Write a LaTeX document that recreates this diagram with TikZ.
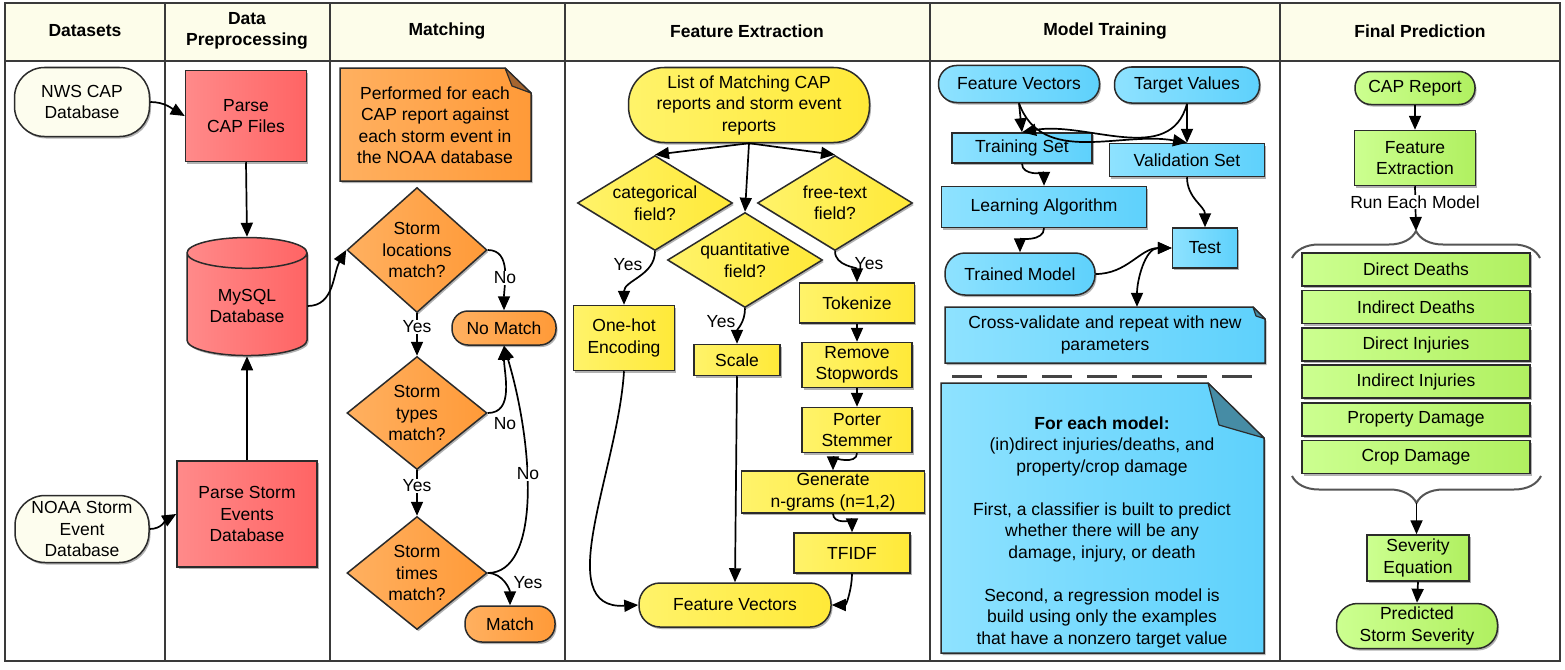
\documentclass[tikz,border=0pt]{standalone}
\usepackage{fontspec}
\setmainfont{Liberation Sans}
\usetikzlibrary{arrows.meta,shapes.geometric,shadows,decorations.pathreplacing,calc}
\newcommand\fs{\fontsize{17.5}{21.5}\selectfont}
\definecolor{linec}{HTML}{2B2B2B}
\definecolor{framec}{HTML}{3A3A3A}
\definecolor{headc}{HTML}{FDFDEA}
\definecolor{creamc}{HTML}{FDFDEE}
\definecolor{redL}{HTML}{FF8A8A}
\definecolor{redR}{HTML}{FF6464}
\definecolor{orL}{HTML}{FFB060}
\definecolor{orR}{HTML}{FF9A38}
\definecolor{yeL}{HTML}{FFF36A}
\definecolor{yeR}{HTML}{FFE938}
\definecolor{blL}{HTML}{8EE2FF}
\definecolor{blR}{HTML}{5ED1FC}
\definecolor{grL}{HTML}{CCFF90}
\definecolor{grR}{HTML}{B0F060}
\definecolor{flapor}{HTML}{A5652F}
\definecolor{flapbl}{HTML}{468CA5}
\definecolor{bracec}{HTML}{555555}
\definecolor{dashc}{HTML}{444444}
\tikzset{
  every node/.style={font=\fs, text=black},
  shad/.style={drop shadow={shadow xshift=1.5pt, shadow yshift=-2pt, opacity=0.3, fill=black}},
  nd/.style={draw=linec, line width=1.5pt, align=center, inner sep=1pt, shad},
  sz/.style 2 args={minimum width=#1pt, minimum height=#2pt},
  pill/.style={rounded corners=#1pt},
  dia/.style={diamond, inner sep=0pt},
  ccr/.style={fill=creamc},
  cred/.style={left color=redL, right color=redR},
  cor/.style={left color=orL, right color=orR},
  cye/.style={left color=yeL, right color=yeR},
  cbl/.style={left color=blL, right color=blR},
  cgr/.style={left color=grL, right color=grR},
  arr/.style={line width=1.7pt, draw=black, -{Triangle[length=14pt,width=12pt]}},
  arrtwo/.style={line width=1.7pt, draw=black, {Triangle[length=14pt,width=12pt]}-{Triangle[length=14pt,width=12pt]}},
  lab/.style={fill=white, inner sep=0.5pt},
  lbl/.style={inner sep=0.5pt},
  hdr/.style={font=\fs\bfseries, align=center},
  notepath/.style={draw=linec, line width=1.5pt, shad},
  flappath/.style={draw=linec, line width=1.2pt, line join=round},
  bracest/.style={decorate, decoration={brace, amplitude=27pt}, draw=bracec, line width=2pt},
  framest/.style={draw=framec, line width=2.5pt}
}
\begin{document}
\begin{tikzpicture}[x=1pt,y=1pt]
\useasboundingbox (0,0) rectangle (1565,-669);
% frame
\fill[white] (0,0) rectangle (1565,-669);
\fill[headc] (5,-3) rectangle (1560,-61);
\draw[framest] (5,-3) rectangle (1560,-661);
\draw[framest] (5,-61) -- (1560,-61);
\foreach \x in {165,330,565,930,1280} \draw[framest] (\x,-3) -- (\x,-661);
% headers
\node[hdr] (h1) at (85,-31) {Datasets};
\node[hdr] (h2) at (247,-31) {Data\\Preprocessing};
\node[hdr] (h3) at (447,-31) {Matching};
\node[hdr] (h4) at (747,-31) {Feature Extraction};
\node[hdr] (h5) at (1105,-31) {Model Training};
\node[hdr] (h6) at (1420,-31) {Final Prediction};

% ---------- Datasets ----------
\node[nd, ccr, pill=30, sz={135}{69}] (nws) at (82,-102) {NWS CAP\\Database};
\node[nd, ccr, pill=30, sz={134}{67}] (noaa) at (82,-529) {NOAA Storm\\Event\\Database};

% ---------- Data Preprocessing ----------
\node[nd, cred, sz={121}{91}] (pcap) at (246,-116) {Parse\\CAP Files};
\node[nd, cred, cylinder, shape border rotate=90, aspect=0.4, sz={120}{118}] (mysql) at (247,-306) {MySQL\\Database};
\node[nd, cred, sz={140}{106}] (pstorm) at (247,-514) {Parse Storm\\Events\\Database};
\draw[arr] (nws.east) to[out=0,in=150] (pcap.west);
\draw[arr] (noaa.east) to[out=0,in=210] (pstorm.west);
\draw[arr] (pcap.south) -- (mysql.north);
\draw[arr] (pstorm.north) -- (mysql.south);

% ---------- Matching ----------
\draw[notepath, cor] (340,-68) -- (505,-68) -- (531,-93) -- (531,-181) -- (340,-181) -- cycle;
\draw[flappath, fill=flapor] (505,-68) -- (512,-86) -- (531,-93) -- cycle;
\node[align=center, sz={191}{113}] (note1) at (435,-125) {Performed for each\\CAP report against\\each storm event in\\the NOAA database};
\node[nd, cor, dia, aspect=1.12, sz={140}{125}] (d1) at (417,-250) {Storm\\locations\\match?};
\node[nd, cor, pill=16, sz={104}{34}] (nomatch) at (504,-328) {No Match};
\node[nd, cor, dia, aspect=1.24, sz={140}{113}] (d2) at (417,-413) {Storm\\types\\match?};
\node[nd, cor, dia, aspect=1.24, sz={140}{113}] (d3) at (417,-573) {Storm\\times\\match?};
\node[nd, cor, pill=17, sz={90}{36}] (match) at (510,-624) {Match};
\draw[arr] (mysql.east) to[out=0,in=240] (d1.west);
\draw[arr] (d1.south) -- (d2.north);
\draw[arr] (d2.south) -- (d3.north);
\draw[arr] (d1.east) to[out=0,in=90] (nomatch.north);
\draw[arr] (d2.east) to[out=0,in=-90] (nomatch.south);
\draw[arr] (d3.east) .. controls (540,-573) and (535,-450) .. (nomatch.south);
\draw[arr] (d3.east) to[out=0,in=90] (match.north);
\node[lab] (y1) at (417,-327) {Yes};
\node[lab] (y2) at (417,-486) {Yes};
\node[lab] (n1) at (505,-278) {No};
\node[lbl] (n2) at (505,-424) {No};
\node[lab] (n3) at (528,-474) {No};
\node[lbl] (y3) at (528,-583) {Yes};

% ---------- Feature Extraction ----------
\node[nd, cye, pill=36, sz={241}{75}] (list) at (749,-105) {List of Matching CAP\\reports and storm event\\reports};
\node[nd, cye, dia, aspect=1.63, sz={155}{95}] (cat) at (655,-203) {categorical\\field?};
\node[nd, cye, dia, aspect=1.63, sz={155}{95}] (free) at (835,-203) {free-text\\field?};
\node[nd, cye, dia, aspect=1.63, sz={155}{95}] (quant) at (745,-260) {quantitative\\field?};
\node[nd, cye, sz={101}{65}] (onehot) at (624,-338) {One-hot\\Encoding};
\node[nd, cye, sz={86}{31}] (scale) at (737,-360) {Scale};
\node[nd, cye, sz={115}{40}] (tok) at (857,-303) {Tokenize};
\node[nd, cye, sz={110}{45}] (remove) at (857,-365) {Remove\\Stopwords};
\node[nd, cye, sz={110}{45}] (porter) at (857,-430) {Porter\\Stemmer};
\node[nd, cye, sz={183}{42}] (gen) at (833,-492) {Generate\\n-grams (n=1,2)};
\node[nd, cye, sz={116}{40}] (tfidf) at (852,-553) {TFIDF};
\node[nd, cye, pill=21, sz={192}{44}] (fv1) at (735,-605) {Feature Vectors};
\draw[arr] (list.south) -- (cat.north);
\draw[arr] (list.south) -- (quant.north);
\draw[arr] (list.south) -- (free.north);
\draw[arr] (cat.south) to[out=-90,in=90] (onehot.north);
\draw[arr] (quant.south) to[out=-90,in=90] (scale.north);
\draw[arr] (free.south) to[out=-90,in=90] (tok.north);
\draw[arr] (tok.south) -- (remove.north);
\draw[arr] (remove.south) -- (porter.north);
\draw[arr] (porter.south) to[out=-90,in=90] (gen.north);
\draw[arr] (gen.south) to[out=-90,in=90] (tfidf.north);
\draw[arr] (tfidf.south) to[out=-90,in=0] (fv1.east);
\draw[arr] (scale.south) -- (fv1.north);
\draw[arr] (onehot.south) .. controls (618,-470) and (550,-610) .. (fv1.west);
\node[lbl] (y4) at (628,-265) {Yes};
\node[lbl] (y5) at (721,-322) {Yes};
\node[lbl] (y6) at (869,-264) {Yes};

% ---------- Model Training ----------
\node[nd, cbl, pill=18, sz={161}{37}] (fv2) at (1019,-84) {Feature Vectors};
\node[nd, cbl, pill=17, sz={145}{36}] (tv) at (1187,-85) {Target Values};
\node[nd, cbl, sz={140}{30}] (train) at (1022,-148) {Training Set};
\node[nd, cbl, sz={155}{33}] (valid) at (1187,-160) {Validation Set};
\node[nd, cbl, sz={205}{41}] (learn) at (1044,-207) {Learning Algorithm};
\node[nd, cbl, sz={65}{40}] (test) at (1205,-248) {Test};
\node[nd, cbl, pill=20, sz={150}{42}] (trained) at (1020,-274) {Trained Model};
\draw[notepath, cbl] (945,-307) -- (1253,-307) -- (1265,-319) -- (1265,-363) -- (945,-363) -- cycle;
\draw[flappath, fill=flapbl] (1253,-307) -- (1256,-316) -- (1265,-319) -- cycle;
\node[align=center, sz={320}{56}] (cross) at (1105,-335) {Cross-validate and repeat with new\\parameters};
\draw[arr] (fv2.south) -- (train.north);
\draw[arr] (fv2.south) to[out=-70,in=170] (valid.north);
\draw[arr] (tv.south) -- (valid.north);
\draw[arr] (tv.south) to[out=-105,in=10] (train.north);
\draw[arr] (train.south) to[out=-90,in=90] (learn.north);
\draw[arr] (valid.south) to[out=-90,in=90] (test.north);
\draw[arr] (learn.south) to[out=-90,in=90] (trained.north);
\draw[arr] (trained.east) to[out=0,in=180] (test.west);
\draw[arrtwo] (test.west) to[out=180,in=90] ([xshift=32pt]cross.north);
\draw[dashc, line width=3pt, dash pattern=on 30pt off 15pt] (952,-376) -- (1252,-376);
\draw[notepath, cbl] (941,-383) -- (1208,-383) -- (1264,-438) -- (1264,-653) -- (941,-653) -- cycle;
\draw[flappath, fill=flapbl] (1208,-383) -- (1219,-425) -- (1264,-438) -- cycle;
\node[align=center] (model) at (1102,-532) {\textbf{For each model:}\\(in)direct injuries/deaths, and\\property/crop damage\\[21.5pt]First, a classifier is built to predict\\whether there will be any\\damage, injury, or death\\[21.5pt]Second, a regression model is\\build using only the examples\\that have a nonzero target value};

% ---------- Final Prediction ----------
\node[nd, cgr, pill=16, sz={120}{33}] (cap) at (1415,-88) {CAP Report};
\node[nd, cgr, sz={121}{55}] (fe) at (1415,-158) {Feature\\Extraction};
\coordinate (btop) at (1416,-231);
\draw[arr] (cap.south) -- (fe.north);
\draw[arr] (fe.south) -- (btop);
\node[lab] (run) at (1415,-202) {Run Each Model};
\draw[bracest] (1292,-258) -- (1540,-258);
\node[nd, cgr, sz={228}{33}] (dd) at (1416,-269.5) {Direct Deaths};
\node[nd, cgr, sz={228}{33}] (idd) at (1416,-307) {Indirect Deaths};
\node[nd, cgr, sz={228}{33}] (dj) at (1416,-344.5) {Direct Injuries};
\node[nd, cgr, sz={228}{33}] (ij) at (1416,-381.5) {Indirect Injuries};
\node[nd, cgr, sz={228}{33}] (pd) at (1416,-419.5) {Property Damage};
\node[nd, cgr, sz={228}{33}] (cd) at (1416,-457) {Crop Damage};
\draw[bracest] (1541,-476) -- (1292,-476);
\coordinate (bbot) at (1416.5,-503);
\node[nd, cgr, sz={102}{46}] (sev) at (1418,-558) {Severity\\Equation};
\node[nd, cgr, pill=21, sz={161}{45}] (pred) at (1417,-626) {Predicted\\Storm Severity};
\draw[arr] (bbot) -- (bbot |- sev.north);
\draw[arr] (sev.south) -- (pred.north);
\end{tikzpicture}
\end{document}
